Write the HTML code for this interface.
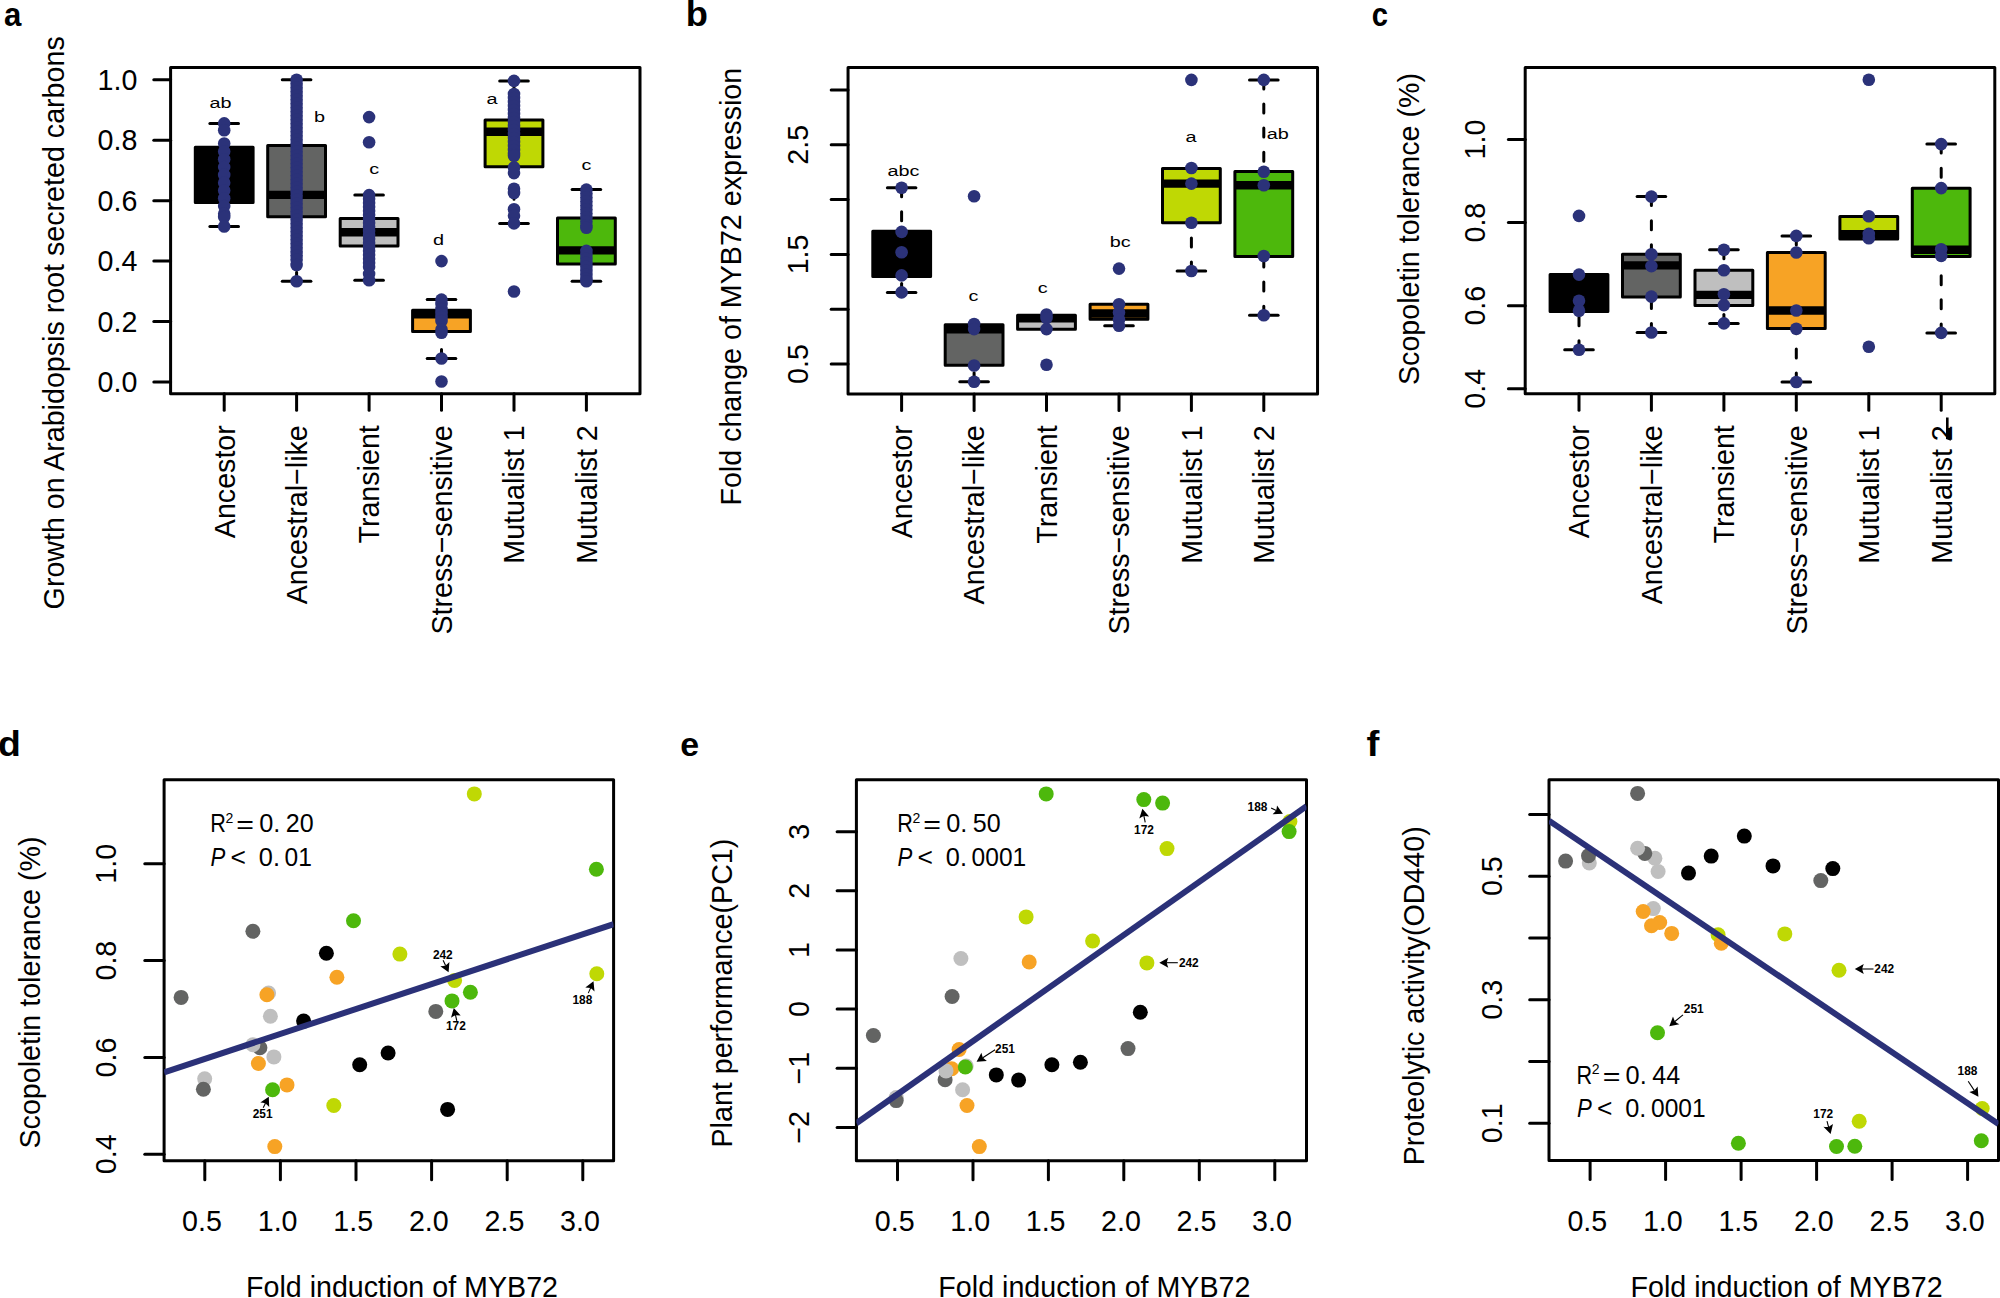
<!DOCTYPE html>
<html lang="en"><head><meta charset="utf-8"><title>Figure</title>
<style>
html,body{margin:0;padding:0;background:#fff;}
body{width:2000px;height:1298px;overflow:hidden;}
svg{display:block;font-family:"Liberation Sans", sans-serif;fill:#000;}
</style></head><body>
<svg width="2000" height="1298" viewBox="0 0 2000 1298">
<rect width="2000" height="1298" fill="#fff"/>
<g id="pa">
<text transform="translate(3.9 25.7) scale(0.95 1)" font-size="32.8" font-weight="bold">a</text>
<line x1="153.8" y1="382.0" x2="170.6" y2="382.0" stroke="#000" stroke-width="3.0" stroke-linecap="round"/>
<text transform="translate(137.4 392.2) scale(1 1.035)" font-size="28.65" text-anchor="end">0.0</text>
<line x1="153.8" y1="321.6" x2="170.6" y2="321.6" stroke="#000" stroke-width="3.0" stroke-linecap="round"/>
<text transform="translate(137.4 331.8) scale(1 1.035)" font-size="28.65" text-anchor="end">0.2</text>
<line x1="153.8" y1="261.1" x2="170.6" y2="261.1" stroke="#000" stroke-width="3.0" stroke-linecap="round"/>
<text transform="translate(137.4 271.3) scale(1 1.035)" font-size="28.65" text-anchor="end">0.4</text>
<line x1="153.8" y1="200.7" x2="170.6" y2="200.7" stroke="#000" stroke-width="3.0" stroke-linecap="round"/>
<text transform="translate(137.4 210.9) scale(1 1.035)" font-size="28.65" text-anchor="end">0.6</text>
<line x1="153.8" y1="140.2" x2="170.6" y2="140.2" stroke="#000" stroke-width="3.0" stroke-linecap="round"/>
<text transform="translate(137.4 150.4) scale(1 1.035)" font-size="28.65" text-anchor="end">0.8</text>
<line x1="153.8" y1="79.8" x2="170.6" y2="79.8" stroke="#000" stroke-width="3.0" stroke-linecap="round"/>
<text transform="translate(137.4 90.0) scale(1 1.035)" font-size="28.65" text-anchor="end">1.0</text>
<text transform="translate(63.8 609.4) rotate(-90) scale(1 1.055)" font-size="28.65" text-anchor="start">Growth on Arabidopsis root secreted carbons</text>
<line x1="224.2" y1="393.8" x2="224.2" y2="410.3" stroke="#000" stroke-width="3.0" stroke-linecap="round"/>
<text transform="translate(234.5 425.2) rotate(-90) scale(1 1.055)" font-size="28.65" text-anchor="end">Ancestor</text>
<line x1="296.6" y1="393.8" x2="296.6" y2="410.3" stroke="#000" stroke-width="3.0" stroke-linecap="round"/>
<text transform="translate(306.9 425.2) rotate(-90) scale(1 1.055)" font-size="28.65" text-anchor="end">Ancestral−like</text>
<line x1="369.1" y1="393.8" x2="369.1" y2="410.3" stroke="#000" stroke-width="3.0" stroke-linecap="round"/>
<text transform="translate(379.4 425.2) rotate(-90) scale(1 1.055)" font-size="28.65" text-anchor="end">Transient</text>
<line x1="441.5" y1="393.8" x2="441.5" y2="410.3" stroke="#000" stroke-width="3.0" stroke-linecap="round"/>
<text transform="translate(451.8 425.2) rotate(-90) scale(1 1.055)" font-size="28.65" text-anchor="end">Stress−sensitive</text>
<line x1="514.0" y1="393.8" x2="514.0" y2="410.3" stroke="#000" stroke-width="3.0" stroke-linecap="round"/>
<text transform="translate(524.3 425.2) rotate(-90) scale(1 1.055)" font-size="28.65" text-anchor="end">Mutualist 1</text>
<line x1="586.4" y1="393.8" x2="586.4" y2="410.3" stroke="#000" stroke-width="3.0" stroke-linecap="round"/>
<text transform="translate(596.7 425.2) rotate(-90) scale(1 1.055)" font-size="28.65" text-anchor="end">Mutualist 2</text>
<line x1="224.2" y1="123.4" x2="224.2" y2="147.2" stroke="#000" stroke-width="3.0" stroke-linecap="round" stroke-dasharray="9 15.1"/>
<line x1="224.2" y1="226.5" x2="224.2" y2="202.6" stroke="#000" stroke-width="3.0" stroke-linecap="round" stroke-dasharray="9 15.1"/>
<line x1="209.9" y1="123.4" x2="238.5" y2="123.4" stroke="#000" stroke-width="3.0" stroke-linecap="round"/>
<line x1="209.9" y1="226.5" x2="238.5" y2="226.5" stroke="#000" stroke-width="3.0" stroke-linecap="round"/>
<rect x="195.3" y="147.2" width="57.8" height="55.4" fill="#000000" stroke="#000" stroke-width="3.0" stroke-linejoin="round"/>
<line x1="296.6" y1="79.7" x2="296.6" y2="145.4" stroke="#000" stroke-width="3.0" stroke-linecap="round" stroke-dasharray="9 15.1"/>
<line x1="296.6" y1="281.3" x2="296.6" y2="216.8" stroke="#000" stroke-width="3.0" stroke-linecap="round" stroke-dasharray="9 15.1"/>
<line x1="282.3" y1="79.7" x2="310.9" y2="79.7" stroke="#000" stroke-width="3.0" stroke-linecap="round"/>
<line x1="282.3" y1="281.3" x2="310.9" y2="281.3" stroke="#000" stroke-width="3.0" stroke-linecap="round"/>
<rect x="267.7" y="145.4" width="57.8" height="71.4" fill="#636463" stroke="#000" stroke-width="3.0" stroke-linejoin="round"/>
<line x1="267.7" y1="194.9" x2="325.5" y2="194.9" stroke="#000" stroke-width="8.4" stroke-linecap="butt"/>
<line x1="369.1" y1="195.1" x2="369.1" y2="218.4" stroke="#000" stroke-width="3.0" stroke-linecap="round" stroke-dasharray="9 15.1"/>
<line x1="369.1" y1="280.2" x2="369.1" y2="246.0" stroke="#000" stroke-width="3.0" stroke-linecap="round" stroke-dasharray="9 15.1"/>
<line x1="354.8" y1="195.1" x2="383.4" y2="195.1" stroke="#000" stroke-width="3.0" stroke-linecap="round"/>
<line x1="354.8" y1="280.2" x2="383.4" y2="280.2" stroke="#000" stroke-width="3.0" stroke-linecap="round"/>
<rect x="340.2" y="218.4" width="57.8" height="27.6" fill="#bfbfbf" stroke="#000" stroke-width="3.0" stroke-linejoin="round"/>
<line x1="340.2" y1="232.3" x2="398.0" y2="232.3" stroke="#000" stroke-width="8.4" stroke-linecap="butt"/>
<line x1="441.5" y1="299.6" x2="441.5" y2="310.2" stroke="#000" stroke-width="3.0" stroke-linecap="round" stroke-dasharray="9 15.1"/>
<line x1="441.5" y1="358.5" x2="441.5" y2="331.6" stroke="#000" stroke-width="3.0" stroke-linecap="round" stroke-dasharray="9 15.1"/>
<line x1="427.2" y1="299.6" x2="455.8" y2="299.6" stroke="#000" stroke-width="3.0" stroke-linecap="round"/>
<line x1="427.2" y1="358.5" x2="455.8" y2="358.5" stroke="#000" stroke-width="3.0" stroke-linecap="round"/>
<rect x="412.6" y="310.2" width="57.8" height="21.4" fill="#f7a325" stroke="#000" stroke-width="3.0" stroke-linejoin="round"/>
<line x1="412.6" y1="314.4" x2="470.4" y2="314.4" stroke="#000" stroke-width="8.4" stroke-linecap="butt"/>
<line x1="514.0" y1="80.9" x2="514.0" y2="119.9" stroke="#000" stroke-width="3.0" stroke-linecap="round" stroke-dasharray="9 15.1"/>
<line x1="514.0" y1="223.4" x2="514.0" y2="166.8" stroke="#000" stroke-width="3.0" stroke-linecap="round" stroke-dasharray="9 15.1"/>
<line x1="499.7" y1="80.9" x2="528.3" y2="80.9" stroke="#000" stroke-width="3.0" stroke-linecap="round"/>
<line x1="499.7" y1="223.4" x2="528.3" y2="223.4" stroke="#000" stroke-width="3.0" stroke-linecap="round"/>
<rect x="485.1" y="119.9" width="57.8" height="46.9" fill="#bfd804" stroke="#000" stroke-width="3.0" stroke-linejoin="round"/>
<line x1="485.1" y1="131.7" x2="542.9" y2="131.7" stroke="#000" stroke-width="8.4" stroke-linecap="butt"/>
<line x1="586.4" y1="189.6" x2="586.4" y2="218.1" stroke="#000" stroke-width="3.0" stroke-linecap="round" stroke-dasharray="9 15.1"/>
<line x1="586.4" y1="281.3" x2="586.4" y2="264.0" stroke="#000" stroke-width="3.0" stroke-linecap="round" stroke-dasharray="9 15.1"/>
<line x1="572.1" y1="189.6" x2="600.7" y2="189.6" stroke="#000" stroke-width="3.0" stroke-linecap="round"/>
<line x1="572.1" y1="281.3" x2="600.7" y2="281.3" stroke="#000" stroke-width="3.0" stroke-linecap="round"/>
<rect x="557.5" y="218.1" width="57.8" height="45.9" fill="#4db80c" stroke="#000" stroke-width="3.0" stroke-linejoin="round"/>
<line x1="557.5" y1="250.4" x2="615.3" y2="250.4" stroke="#000" stroke-width="8.4" stroke-linecap="butt"/>
<circle cx="224.2" cy="123.4" r="6.3" fill="#2b3279"/>
<circle cx="224.2" cy="130.3" r="6.3" fill="#2b3279"/>
<circle cx="224.2" cy="143.5" r="6.3" fill="#2b3279"/>
<circle cx="224.2" cy="151.5" r="6.3" fill="#2b3279"/>
<circle cx="224.2" cy="159.3" r="6.3" fill="#2b3279"/>
<circle cx="224.2" cy="167.1" r="6.3" fill="#2b3279"/>
<circle cx="224.2" cy="174.9" r="6.3" fill="#2b3279"/>
<circle cx="224.2" cy="182.7" r="6.3" fill="#2b3279"/>
<circle cx="224.2" cy="190.5" r="6.3" fill="#2b3279"/>
<circle cx="224.2" cy="198.3" r="6.3" fill="#2b3279"/>
<circle cx="224.2" cy="206.1" r="6.3" fill="#2b3279"/>
<circle cx="224.2" cy="213.8" r="6.3" fill="#2b3279"/>
<circle cx="224.2" cy="217.0" r="6.3" fill="#2b3279"/>
<circle cx="224.2" cy="226.5" r="6.3" fill="#2b3279"/>
<circle cx="296.6" cy="79.7" r="6.3" fill="#2b3279"/>
<circle cx="296.6" cy="83.7" r="6.3" fill="#2b3279"/>
<circle cx="296.6" cy="87.7" r="6.3" fill="#2b3279"/>
<circle cx="296.6" cy="91.7" r="6.3" fill="#2b3279"/>
<circle cx="296.6" cy="95.7" r="6.3" fill="#2b3279"/>
<circle cx="296.6" cy="99.7" r="6.3" fill="#2b3279"/>
<circle cx="296.6" cy="103.7" r="6.3" fill="#2b3279"/>
<circle cx="296.6" cy="107.7" r="6.3" fill="#2b3279"/>
<circle cx="296.6" cy="111.7" r="6.3" fill="#2b3279"/>
<circle cx="296.6" cy="115.7" r="6.3" fill="#2b3279"/>
<circle cx="296.6" cy="119.7" r="6.3" fill="#2b3279"/>
<circle cx="296.6" cy="123.7" r="6.3" fill="#2b3279"/>
<circle cx="296.6" cy="127.7" r="6.3" fill="#2b3279"/>
<circle cx="296.6" cy="131.7" r="6.3" fill="#2b3279"/>
<circle cx="296.6" cy="135.7" r="6.3" fill="#2b3279"/>
<circle cx="296.6" cy="139.7" r="6.3" fill="#2b3279"/>
<circle cx="296.6" cy="143.7" r="6.3" fill="#2b3279"/>
<circle cx="296.6" cy="147.7" r="6.3" fill="#2b3279"/>
<circle cx="296.6" cy="151.7" r="6.3" fill="#2b3279"/>
<circle cx="296.6" cy="155.7" r="6.3" fill="#2b3279"/>
<circle cx="296.6" cy="159.7" r="6.3" fill="#2b3279"/>
<circle cx="296.6" cy="163.7" r="6.3" fill="#2b3279"/>
<circle cx="296.6" cy="167.7" r="6.3" fill="#2b3279"/>
<circle cx="296.6" cy="171.7" r="6.3" fill="#2b3279"/>
<circle cx="296.6" cy="175.7" r="6.3" fill="#2b3279"/>
<circle cx="296.6" cy="179.7" r="6.3" fill="#2b3279"/>
<circle cx="296.6" cy="183.7" r="6.3" fill="#2b3279"/>
<circle cx="296.6" cy="187.7" r="6.3" fill="#2b3279"/>
<circle cx="296.6" cy="191.7" r="6.3" fill="#2b3279"/>
<circle cx="296.6" cy="195.7" r="6.3" fill="#2b3279"/>
<circle cx="296.6" cy="199.7" r="6.3" fill="#2b3279"/>
<circle cx="296.6" cy="203.7" r="6.3" fill="#2b3279"/>
<circle cx="296.6" cy="207.7" r="6.3" fill="#2b3279"/>
<circle cx="296.6" cy="211.7" r="6.3" fill="#2b3279"/>
<circle cx="296.6" cy="215.7" r="6.3" fill="#2b3279"/>
<circle cx="296.6" cy="219.7" r="6.3" fill="#2b3279"/>
<circle cx="296.6" cy="223.7" r="6.3" fill="#2b3279"/>
<circle cx="296.6" cy="227.7" r="6.3" fill="#2b3279"/>
<circle cx="296.6" cy="231.7" r="6.3" fill="#2b3279"/>
<circle cx="296.6" cy="235.7" r="6.3" fill="#2b3279"/>
<circle cx="296.6" cy="239.7" r="6.3" fill="#2b3279"/>
<circle cx="296.6" cy="243.7" r="6.3" fill="#2b3279"/>
<circle cx="296.6" cy="247.7" r="6.3" fill="#2b3279"/>
<circle cx="296.6" cy="251.7" r="6.3" fill="#2b3279"/>
<circle cx="296.6" cy="255.7" r="6.3" fill="#2b3279"/>
<circle cx="296.6" cy="259.7" r="6.3" fill="#2b3279"/>
<circle cx="296.6" cy="265.0" r="6.3" fill="#2b3279"/>
<circle cx="296.6" cy="281.3" r="6.3" fill="#2b3279"/>
<circle cx="369.1" cy="117.1" r="6.3" fill="#2b3279"/>
<circle cx="369.1" cy="142.2" r="6.3" fill="#2b3279"/>
<circle cx="369.1" cy="195.1" r="6.3" fill="#2b3279"/>
<circle cx="369.1" cy="199.1" r="6.3" fill="#2b3279"/>
<circle cx="369.1" cy="203.1" r="6.3" fill="#2b3279"/>
<circle cx="369.1" cy="207.1" r="6.3" fill="#2b3279"/>
<circle cx="369.1" cy="211.1" r="6.3" fill="#2b3279"/>
<circle cx="369.1" cy="215.1" r="6.3" fill="#2b3279"/>
<circle cx="369.1" cy="219.1" r="6.3" fill="#2b3279"/>
<circle cx="369.1" cy="223.1" r="6.3" fill="#2b3279"/>
<circle cx="369.1" cy="227.1" r="6.3" fill="#2b3279"/>
<circle cx="369.1" cy="231.1" r="6.3" fill="#2b3279"/>
<circle cx="369.1" cy="235.1" r="6.3" fill="#2b3279"/>
<circle cx="369.1" cy="239.1" r="6.3" fill="#2b3279"/>
<circle cx="369.1" cy="243.1" r="6.3" fill="#2b3279"/>
<circle cx="369.1" cy="247.1" r="6.3" fill="#2b3279"/>
<circle cx="369.1" cy="251.1" r="6.3" fill="#2b3279"/>
<circle cx="369.1" cy="255.1" r="6.3" fill="#2b3279"/>
<circle cx="369.1" cy="259.1" r="6.3" fill="#2b3279"/>
<circle cx="369.1" cy="263.1" r="6.3" fill="#2b3279"/>
<circle cx="369.1" cy="267.1" r="6.3" fill="#2b3279"/>
<circle cx="369.1" cy="274.0" r="6.3" fill="#2b3279"/>
<circle cx="369.1" cy="280.2" r="6.3" fill="#2b3279"/>
<circle cx="441.5" cy="261.1" r="6.3" fill="#2b3279"/>
<circle cx="441.5" cy="299.6" r="6.3" fill="#2b3279"/>
<circle cx="441.5" cy="304.0" r="6.3" fill="#2b3279"/>
<circle cx="441.5" cy="309.0" r="6.3" fill="#2b3279"/>
<circle cx="441.5" cy="313.0" r="6.3" fill="#2b3279"/>
<circle cx="441.5" cy="317.0" r="6.3" fill="#2b3279"/>
<circle cx="441.5" cy="321.0" r="6.3" fill="#2b3279"/>
<circle cx="441.5" cy="329.5" r="6.3" fill="#2b3279"/>
<circle cx="441.5" cy="332.8" r="6.3" fill="#2b3279"/>
<circle cx="441.5" cy="358.5" r="6.3" fill="#2b3279"/>
<circle cx="441.5" cy="381.5" r="6.3" fill="#2b3279"/>
<circle cx="514.0" cy="80.9" r="6.3" fill="#2b3279"/>
<circle cx="514.0" cy="94.0" r="6.3" fill="#2b3279"/>
<circle cx="514.0" cy="98.0" r="6.3" fill="#2b3279"/>
<circle cx="514.0" cy="102.0" r="6.3" fill="#2b3279"/>
<circle cx="514.0" cy="106.0" r="6.3" fill="#2b3279"/>
<circle cx="514.0" cy="110.0" r="6.3" fill="#2b3279"/>
<circle cx="514.0" cy="114.0" r="6.3" fill="#2b3279"/>
<circle cx="514.0" cy="118.0" r="6.3" fill="#2b3279"/>
<circle cx="514.0" cy="122.0" r="6.3" fill="#2b3279"/>
<circle cx="514.0" cy="126.0" r="6.3" fill="#2b3279"/>
<circle cx="514.0" cy="130.0" r="6.3" fill="#2b3279"/>
<circle cx="514.0" cy="134.0" r="6.3" fill="#2b3279"/>
<circle cx="514.0" cy="138.0" r="6.3" fill="#2b3279"/>
<circle cx="514.0" cy="142.0" r="6.3" fill="#2b3279"/>
<circle cx="514.0" cy="146.0" r="6.3" fill="#2b3279"/>
<circle cx="514.0" cy="150.0" r="6.3" fill="#2b3279"/>
<circle cx="514.0" cy="154.0" r="6.3" fill="#2b3279"/>
<circle cx="514.0" cy="155.8" r="6.3" fill="#2b3279"/>
<circle cx="514.0" cy="167.4" r="6.3" fill="#2b3279"/>
<circle cx="514.0" cy="173.1" r="6.3" fill="#2b3279"/>
<circle cx="514.0" cy="188.8" r="6.3" fill="#2b3279"/>
<circle cx="514.0" cy="193.0" r="6.3" fill="#2b3279"/>
<circle cx="514.0" cy="209.3" r="6.3" fill="#2b3279"/>
<circle cx="514.0" cy="215.8" r="6.3" fill="#2b3279"/>
<circle cx="514.0" cy="223.4" r="6.3" fill="#2b3279"/>
<circle cx="514.0" cy="291.5" r="6.3" fill="#2b3279"/>
<circle cx="586.4" cy="189.6" r="6.3" fill="#2b3279"/>
<circle cx="586.4" cy="193.6" r="6.3" fill="#2b3279"/>
<circle cx="586.4" cy="197.6" r="6.3" fill="#2b3279"/>
<circle cx="586.4" cy="201.6" r="6.3" fill="#2b3279"/>
<circle cx="586.4" cy="205.6" r="6.3" fill="#2b3279"/>
<circle cx="586.4" cy="209.6" r="6.3" fill="#2b3279"/>
<circle cx="586.4" cy="213.6" r="6.3" fill="#2b3279"/>
<circle cx="586.4" cy="217.6" r="6.3" fill="#2b3279"/>
<circle cx="586.4" cy="221.6" r="6.3" fill="#2b3279"/>
<circle cx="586.4" cy="225.6" r="6.3" fill="#2b3279"/>
<circle cx="586.4" cy="227.8" r="6.3" fill="#2b3279"/>
<circle cx="586.4" cy="250.9" r="6.3" fill="#2b3279"/>
<circle cx="586.4" cy="254.9" r="6.3" fill="#2b3279"/>
<circle cx="586.4" cy="258.9" r="6.3" fill="#2b3279"/>
<circle cx="586.4" cy="262.9" r="6.3" fill="#2b3279"/>
<circle cx="586.4" cy="266.9" r="6.3" fill="#2b3279"/>
<circle cx="586.4" cy="270.9" r="6.3" fill="#2b3279"/>
<circle cx="586.4" cy="274.9" r="6.3" fill="#2b3279"/>
<circle cx="586.4" cy="278.9" r="6.3" fill="#2b3279"/>
<circle cx="586.4" cy="281.3" r="6.3" fill="#2b3279"/>
<text transform="translate(220.6 108.4) scale(1.28 1)" font-size="15.5" text-anchor="middle">ab</text>
<text transform="translate(319.5 122.1) scale(1.28 1)" font-size="15.5" text-anchor="middle">b</text>
<text transform="translate(374.2 174.4) scale(1.28 1)" font-size="15.5" text-anchor="middle">c</text>
<text transform="translate(438.5 244.6) scale(1.28 1)" font-size="15.5" text-anchor="middle">d</text>
<text transform="translate(491.9 104.0) scale(1.28 1)" font-size="15.5" text-anchor="middle">a</text>
<text transform="translate(586.4 169.5) scale(1.28 1)" font-size="15.5" text-anchor="middle">c</text>
<rect x="170.6" y="67.4" width="469.4" height="326.4" fill="none" stroke="#000" stroke-width="3.0" stroke-linejoin="round"/>
</g>
<g id="pb">
<text transform="translate(685.7 25.7) scale(1.025 1)" font-size="35.4" font-weight="bold">b</text>
<line x1="831.2" y1="364.0" x2="848.0" y2="364.0" stroke="#000" stroke-width="3.0" stroke-linecap="round"/>
<line x1="831.2" y1="309.2" x2="848.0" y2="309.2" stroke="#000" stroke-width="3.0" stroke-linecap="round"/>
<line x1="831.2" y1="254.4" x2="848.0" y2="254.4" stroke="#000" stroke-width="3.0" stroke-linecap="round"/>
<line x1="831.2" y1="199.6" x2="848.0" y2="199.6" stroke="#000" stroke-width="3.0" stroke-linecap="round"/>
<line x1="831.2" y1="144.8" x2="848.0" y2="144.8" stroke="#000" stroke-width="3.0" stroke-linecap="round"/>
<line x1="831.2" y1="90.0" x2="848.0" y2="90.0" stroke="#000" stroke-width="3.0" stroke-linecap="round"/>
<text transform="translate(807.6 364.0) rotate(-90) scale(1 1.055)" font-size="28.65" text-anchor="middle">0.5</text>
<text transform="translate(807.6 254.4) rotate(-90) scale(1 1.055)" font-size="28.65" text-anchor="middle">1.5</text>
<text transform="translate(807.6 144.8) rotate(-90) scale(1 1.055)" font-size="28.65" text-anchor="middle">2.5</text>
<text transform="translate(740.6 505.6) rotate(-90) scale(1 1.055)" font-size="28.65" text-anchor="start">Fold change of MYB72 expression</text>
<line x1="901.6" y1="393.9" x2="901.6" y2="410.4" stroke="#000" stroke-width="3.0" stroke-linecap="round"/>
<text transform="translate(911.9 425.3) rotate(-90) scale(1 1.055)" font-size="28.65" text-anchor="end">Ancestor</text>
<line x1="974.1" y1="393.9" x2="974.1" y2="410.4" stroke="#000" stroke-width="3.0" stroke-linecap="round"/>
<text transform="translate(984.4 425.3) rotate(-90) scale(1 1.055)" font-size="28.65" text-anchor="end">Ancestral−like</text>
<line x1="1046.5" y1="393.9" x2="1046.5" y2="410.4" stroke="#000" stroke-width="3.0" stroke-linecap="round"/>
<text transform="translate(1056.8 425.3) rotate(-90) scale(1 1.055)" font-size="28.65" text-anchor="end">Transient</text>
<line x1="1119.0" y1="393.9" x2="1119.0" y2="410.4" stroke="#000" stroke-width="3.0" stroke-linecap="round"/>
<text transform="translate(1129.3 425.3) rotate(-90) scale(1 1.055)" font-size="28.65" text-anchor="end">Stress−sensitive</text>
<line x1="1191.4" y1="393.9" x2="1191.4" y2="410.4" stroke="#000" stroke-width="3.0" stroke-linecap="round"/>
<text transform="translate(1201.7 425.3) rotate(-90) scale(1 1.055)" font-size="28.65" text-anchor="end">Mutualist 1</text>
<line x1="1263.8" y1="393.9" x2="1263.8" y2="410.4" stroke="#000" stroke-width="3.0" stroke-linecap="round"/>
<text transform="translate(1274.1 425.3) rotate(-90) scale(1 1.055)" font-size="28.65" text-anchor="end">Mutualist 2</text>
<line x1="901.6" y1="187.7" x2="901.6" y2="231.2" stroke="#000" stroke-width="3.0" stroke-linecap="round" stroke-dasharray="9 15.1"/>
<line x1="901.6" y1="292.4" x2="901.6" y2="276.5" stroke="#000" stroke-width="3.0" stroke-linecap="round" stroke-dasharray="9 15.1"/>
<line x1="887.4" y1="187.7" x2="915.9" y2="187.7" stroke="#000" stroke-width="3.0" stroke-linecap="round"/>
<line x1="887.4" y1="292.4" x2="915.9" y2="292.4" stroke="#000" stroke-width="3.0" stroke-linecap="round"/>
<rect x="872.8" y="231.2" width="57.8" height="45.3" fill="#000000" stroke="#000" stroke-width="3.0" stroke-linejoin="round"/>
<line x1="974.1" y1="381.8" x2="974.1" y2="365.3" stroke="#000" stroke-width="3.0" stroke-linecap="round" stroke-dasharray="9 15.1"/>
<line x1="959.8" y1="381.8" x2="988.4" y2="381.8" stroke="#000" stroke-width="3.0" stroke-linecap="round"/>
<rect x="945.2" y="324.7" width="57.8" height="40.6" fill="#636463" stroke="#000" stroke-width="3.0" stroke-linejoin="round"/>
<line x1="945.2" y1="329.4" x2="1003.0" y2="329.4" stroke="#000" stroke-width="8.4" stroke-linecap="butt"/>
<rect x="1017.6" y="315.2" width="57.8" height="14.0" fill="#bfbfbf" stroke="#000" stroke-width="3.0" stroke-linejoin="round"/>
<line x1="1017.6" y1="318.4" x2="1075.4" y2="318.4" stroke="#000" stroke-width="8.4" stroke-linecap="butt"/>
<line x1="1119.0" y1="325.7" x2="1119.0" y2="319.2" stroke="#000" stroke-width="3.0" stroke-linecap="round" stroke-dasharray="9 15.1"/>
<line x1="1104.7" y1="325.7" x2="1133.3" y2="325.7" stroke="#000" stroke-width="3.0" stroke-linecap="round"/>
<rect x="1090.1" y="304.3" width="57.8" height="14.9" fill="#f7a325" stroke="#000" stroke-width="3.0" stroke-linejoin="round"/>
<line x1="1090.1" y1="313.5" x2="1147.9" y2="313.5" stroke="#000" stroke-width="8.4" stroke-linecap="butt"/>
<line x1="1191.4" y1="271.0" x2="1191.4" y2="222.7" stroke="#000" stroke-width="3.0" stroke-linecap="round" stroke-dasharray="9 15.1"/>
<line x1="1177.1" y1="271.0" x2="1205.7" y2="271.0" stroke="#000" stroke-width="3.0" stroke-linecap="round"/>
<rect x="1162.5" y="168.6" width="57.8" height="54.1" fill="#bfd804" stroke="#000" stroke-width="3.0" stroke-linejoin="round"/>
<line x1="1162.5" y1="183.6" x2="1220.3" y2="183.6" stroke="#000" stroke-width="8.4" stroke-linecap="butt"/>
<line x1="1263.8" y1="79.9" x2="1263.8" y2="171.6" stroke="#000" stroke-width="3.0" stroke-linecap="round" stroke-dasharray="9 15.1"/>
<line x1="1263.8" y1="315.2" x2="1263.8" y2="256.6" stroke="#000" stroke-width="3.0" stroke-linecap="round" stroke-dasharray="9 15.1"/>
<line x1="1249.5" y1="79.9" x2="1278.1" y2="79.9" stroke="#000" stroke-width="3.0" stroke-linecap="round"/>
<line x1="1249.5" y1="315.2" x2="1278.1" y2="315.2" stroke="#000" stroke-width="3.0" stroke-linecap="round"/>
<rect x="1234.9" y="171.6" width="57.8" height="85.0" fill="#4db80c" stroke="#000" stroke-width="3.0" stroke-linejoin="round"/>
<line x1="1234.9" y1="185.3" x2="1292.8" y2="185.3" stroke="#000" stroke-width="8.4" stroke-linecap="butt"/>
<circle cx="901.6" cy="187.7" r="6.3" fill="#2b3279"/>
<circle cx="901.6" cy="231.9" r="6.3" fill="#2b3279"/>
<circle cx="901.6" cy="252.3" r="6.3" fill="#2b3279"/>
<circle cx="901.6" cy="275.4" r="6.3" fill="#2b3279"/>
<circle cx="901.6" cy="292.4" r="6.3" fill="#2b3279"/>
<circle cx="974.1" cy="196.2" r="6.3" fill="#2b3279"/>
<circle cx="974.1" cy="324.0" r="6.3" fill="#2b3279"/>
<circle cx="974.1" cy="329.1" r="6.3" fill="#2b3279"/>
<circle cx="974.1" cy="365.5" r="6.3" fill="#2b3279"/>
<circle cx="974.1" cy="381.8" r="6.3" fill="#2b3279"/>
<circle cx="1046.5" cy="314.5" r="6.3" fill="#2b3279"/>
<circle cx="1046.5" cy="318.0" r="6.3" fill="#2b3279"/>
<circle cx="1046.5" cy="329.1" r="6.3" fill="#2b3279"/>
<circle cx="1046.5" cy="364.8" r="6.3" fill="#2b3279"/>
<circle cx="1119.0" cy="268.6" r="6.3" fill="#2b3279"/>
<circle cx="1119.0" cy="304.3" r="6.3" fill="#2b3279"/>
<circle cx="1119.0" cy="312.5" r="6.3" fill="#2b3279"/>
<circle cx="1119.0" cy="319.5" r="6.3" fill="#2b3279"/>
<circle cx="1119.0" cy="325.7" r="6.3" fill="#2b3279"/>
<circle cx="1191.4" cy="79.9" r="6.3" fill="#2b3279"/>
<circle cx="1191.4" cy="168.0" r="6.3" fill="#2b3279"/>
<circle cx="1191.4" cy="183.6" r="6.3" fill="#2b3279"/>
<circle cx="1191.4" cy="222.7" r="6.3" fill="#2b3279"/>
<circle cx="1191.4" cy="271.0" r="6.3" fill="#2b3279"/>
<circle cx="1263.8" cy="79.9" r="6.3" fill="#2b3279"/>
<circle cx="1263.8" cy="171.7" r="6.3" fill="#2b3279"/>
<circle cx="1263.8" cy="185.3" r="6.3" fill="#2b3279"/>
<circle cx="1263.8" cy="256.0" r="6.3" fill="#2b3279"/>
<circle cx="1263.8" cy="315.2" r="6.3" fill="#2b3279"/>
<text transform="translate(903.4 175.8) scale(1.28 1)" font-size="15.5" text-anchor="middle">abc</text>
<text transform="translate(973.4 301.0) scale(1.28 1)" font-size="15.5" text-anchor="middle">c</text>
<text transform="translate(1042.8 293.4) scale(1.28 1)" font-size="15.5" text-anchor="middle">c</text>
<text transform="translate(1120.3 246.5) scale(1.28 1)" font-size="15.5" text-anchor="middle">bc</text>
<text transform="translate(1191.0 142.1) scale(1.28 1)" font-size="15.5" text-anchor="middle">a</text>
<text transform="translate(1277.8 139.4) scale(1.28 1)" font-size="15.5" text-anchor="middle">ab</text>
<rect x="848.05" y="67.5" width="469.5" height="326.4" fill="none" stroke="#000" stroke-width="3.0" stroke-linejoin="round"/>
</g>
<g id="pc">
<text transform="translate(1371.8 25.8) scale(0.88 1)" font-size="33.2" font-weight="bold">c</text>
<line x1="1508.4" y1="388.8" x2="1525.2" y2="388.8" stroke="#000" stroke-width="3.0" stroke-linecap="round"/>
<text transform="translate(1484.8 388.8) rotate(-90) scale(1 1.055)" font-size="28.65" text-anchor="middle">0.4</text>
<line x1="1508.4" y1="305.7" x2="1525.2" y2="305.7" stroke="#000" stroke-width="3.0" stroke-linecap="round"/>
<text transform="translate(1484.8 305.7) rotate(-90) scale(1 1.055)" font-size="28.65" text-anchor="middle">0.6</text>
<line x1="1508.4" y1="222.6" x2="1525.2" y2="222.6" stroke="#000" stroke-width="3.0" stroke-linecap="round"/>
<text transform="translate(1484.8 222.6) rotate(-90) scale(1 1.055)" font-size="28.65" text-anchor="middle">0.8</text>
<line x1="1508.4" y1="139.5" x2="1525.2" y2="139.5" stroke="#000" stroke-width="3.0" stroke-linecap="round"/>
<text transform="translate(1484.8 139.5) rotate(-90) scale(1 1.055)" font-size="28.65" text-anchor="middle">1.0</text>
<text transform="translate(1418.5 385.0) rotate(-90) scale(1 1.055)" font-size="28.65" text-anchor="start">Scopoletin tolerance (%)</text>
<line x1="1579.0" y1="393.8" x2="1579.0" y2="410.3" stroke="#000" stroke-width="3.0" stroke-linecap="round"/>
<text transform="translate(1589.3 425.2) rotate(-90) scale(1 1.055)" font-size="28.65" text-anchor="end">Ancestor</text>
<line x1="1651.4" y1="393.8" x2="1651.4" y2="410.3" stroke="#000" stroke-width="3.0" stroke-linecap="round"/>
<text transform="translate(1661.7 425.2) rotate(-90) scale(1 1.055)" font-size="28.65" text-anchor="end">Ancestral−like</text>
<line x1="1723.9" y1="393.8" x2="1723.9" y2="410.3" stroke="#000" stroke-width="3.0" stroke-linecap="round"/>
<text transform="translate(1734.2 425.2) rotate(-90) scale(1 1.055)" font-size="28.65" text-anchor="end">Transient</text>
<line x1="1796.3" y1="393.8" x2="1796.3" y2="410.3" stroke="#000" stroke-width="3.0" stroke-linecap="round"/>
<text transform="translate(1806.6 425.2) rotate(-90) scale(1 1.055)" font-size="28.65" text-anchor="end">Stress−sensitive</text>
<line x1="1868.8" y1="393.8" x2="1868.8" y2="410.3" stroke="#000" stroke-width="3.0" stroke-linecap="round"/>
<text transform="translate(1879.1 425.2) rotate(-90) scale(1 1.055)" font-size="28.65" text-anchor="end">Mutualist 1</text>
<line x1="1941.2" y1="393.8" x2="1941.2" y2="410.3" stroke="#000" stroke-width="3.0" stroke-linecap="round"/>
<text transform="translate(1951.5 425.2) rotate(-90) scale(1 1.055)" font-size="28.65" text-anchor="end">Mutualist 2</text>
<line x1="1579.0" y1="349.8" x2="1579.0" y2="311.5" stroke="#000" stroke-width="3.0" stroke-linecap="round" stroke-dasharray="9 15.1"/>
<line x1="1564.7" y1="349.8" x2="1593.3" y2="349.8" stroke="#000" stroke-width="3.0" stroke-linecap="round"/>
<rect x="1550.1" y="274.6" width="57.8" height="36.9" fill="#000000" stroke="#000" stroke-width="3.0" stroke-linejoin="round"/>
<line x1="1651.4" y1="196.6" x2="1651.4" y2="254.3" stroke="#000" stroke-width="3.0" stroke-linecap="round" stroke-dasharray="9 15.1"/>
<line x1="1651.4" y1="332.5" x2="1651.4" y2="296.9" stroke="#000" stroke-width="3.0" stroke-linecap="round" stroke-dasharray="9 15.1"/>
<line x1="1637.1" y1="196.6" x2="1665.7" y2="196.6" stroke="#000" stroke-width="3.0" stroke-linecap="round"/>
<line x1="1637.1" y1="332.5" x2="1665.7" y2="332.5" stroke="#000" stroke-width="3.0" stroke-linecap="round"/>
<rect x="1622.5" y="254.3" width="57.8" height="42.6" fill="#636463" stroke="#000" stroke-width="3.0" stroke-linejoin="round"/>
<line x1="1622.5" y1="265.4" x2="1680.3" y2="265.4" stroke="#000" stroke-width="8.4" stroke-linecap="butt"/>
<line x1="1723.9" y1="249.8" x2="1723.9" y2="270.2" stroke="#000" stroke-width="3.0" stroke-linecap="round" stroke-dasharray="9 15.1"/>
<line x1="1723.9" y1="323.4" x2="1723.9" y2="305.4" stroke="#000" stroke-width="3.0" stroke-linecap="round" stroke-dasharray="9 15.1"/>
<line x1="1709.6" y1="249.8" x2="1738.2" y2="249.8" stroke="#000" stroke-width="3.0" stroke-linecap="round"/>
<line x1="1709.6" y1="323.4" x2="1738.2" y2="323.4" stroke="#000" stroke-width="3.0" stroke-linecap="round"/>
<rect x="1695.0" y="270.2" width="57.8" height="35.2" fill="#bfbfbf" stroke="#000" stroke-width="3.0" stroke-linejoin="round"/>
<line x1="1695.0" y1="294.9" x2="1752.8" y2="294.9" stroke="#000" stroke-width="8.4" stroke-linecap="butt"/>
<line x1="1796.3" y1="235.9" x2="1796.3" y2="252.6" stroke="#000" stroke-width="3.0" stroke-linecap="round" stroke-dasharray="9 15.1"/>
<line x1="1796.3" y1="382.0" x2="1796.3" y2="328.4" stroke="#000" stroke-width="3.0" stroke-linecap="round" stroke-dasharray="9 15.1"/>
<line x1="1782.0" y1="235.9" x2="1810.6" y2="235.9" stroke="#000" stroke-width="3.0" stroke-linecap="round"/>
<line x1="1782.0" y1="382.0" x2="1810.6" y2="382.0" stroke="#000" stroke-width="3.0" stroke-linecap="round"/>
<rect x="1767.4" y="252.6" width="57.8" height="75.8" fill="#f7a325" stroke="#000" stroke-width="3.0" stroke-linejoin="round"/>
<line x1="1767.4" y1="310.5" x2="1825.2" y2="310.5" stroke="#000" stroke-width="8.4" stroke-linecap="butt"/>
<rect x="1839.9" y="216.6" width="57.8" height="22.3" fill="#bfd804" stroke="#000" stroke-width="3.0" stroke-linejoin="round"/>
<line x1="1839.9" y1="234.2" x2="1897.7" y2="234.2" stroke="#000" stroke-width="8.4" stroke-linecap="butt"/>
<line x1="1941.2" y1="144.1" x2="1941.2" y2="188.2" stroke="#000" stroke-width="3.0" stroke-linecap="round" stroke-dasharray="9 15.1"/>
<line x1="1941.2" y1="332.9" x2="1941.2" y2="256.5" stroke="#000" stroke-width="3.0" stroke-linecap="round" stroke-dasharray="9 15.1"/>
<line x1="1926.9" y1="144.1" x2="1955.5" y2="144.1" stroke="#000" stroke-width="3.0" stroke-linecap="round"/>
<line x1="1926.9" y1="332.9" x2="1955.5" y2="332.9" stroke="#000" stroke-width="3.0" stroke-linecap="round"/>
<rect x="1912.3" y="188.2" width="57.8" height="68.3" fill="#4db80c" stroke="#000" stroke-width="3.0" stroke-linejoin="round"/>
<line x1="1912.3" y1="249.8" x2="1970.1" y2="249.8" stroke="#000" stroke-width="8.4" stroke-linecap="butt"/>
<circle cx="1579.0" cy="215.9" r="6.3" fill="#2b3279"/>
<circle cx="1579.0" cy="274.6" r="6.3" fill="#2b3279"/>
<circle cx="1579.0" cy="300.7" r="6.3" fill="#2b3279"/>
<circle cx="1579.0" cy="310.8" r="6.3" fill="#2b3279"/>
<circle cx="1579.0" cy="349.8" r="6.3" fill="#2b3279"/>
<circle cx="1651.4" cy="196.6" r="6.3" fill="#2b3279"/>
<circle cx="1651.4" cy="254.2" r="6.3" fill="#2b3279"/>
<circle cx="1651.4" cy="266.1" r="6.3" fill="#2b3279"/>
<circle cx="1651.4" cy="296.6" r="6.3" fill="#2b3279"/>
<circle cx="1651.4" cy="332.5" r="6.3" fill="#2b3279"/>
<circle cx="1723.9" cy="249.8" r="6.3" fill="#2b3279"/>
<circle cx="1723.9" cy="270.2" r="6.3" fill="#2b3279"/>
<circle cx="1723.9" cy="294.2" r="6.3" fill="#2b3279"/>
<circle cx="1723.9" cy="305.1" r="6.3" fill="#2b3279"/>
<circle cx="1723.9" cy="323.4" r="6.3" fill="#2b3279"/>
<circle cx="1796.3" cy="235.9" r="6.3" fill="#2b3279"/>
<circle cx="1796.3" cy="252.5" r="6.3" fill="#2b3279"/>
<circle cx="1796.3" cy="310.5" r="6.3" fill="#2b3279"/>
<circle cx="1796.3" cy="328.8" r="6.3" fill="#2b3279"/>
<circle cx="1796.3" cy="382.0" r="6.3" fill="#2b3279"/>
<circle cx="1868.8" cy="79.7" r="6.3" fill="#2b3279"/>
<circle cx="1868.8" cy="216.3" r="6.3" fill="#2b3279"/>
<circle cx="1868.8" cy="233.9" r="6.3" fill="#2b3279"/>
<circle cx="1868.8" cy="238.3" r="6.3" fill="#2b3279"/>
<circle cx="1868.8" cy="346.8" r="6.3" fill="#2b3279"/>
<circle cx="1941.2" cy="144.1" r="6.3" fill="#2b3279"/>
<circle cx="1941.2" cy="188.1" r="6.3" fill="#2b3279"/>
<circle cx="1941.2" cy="249.2" r="6.3" fill="#2b3279"/>
<circle cx="1941.2" cy="255.9" r="6.3" fill="#2b3279"/>
<circle cx="1941.2" cy="332.9" r="6.3" fill="#2b3279"/>
<rect x="1525.2" y="67.4" width="469.6" height="326.4" fill="none" stroke="#000" stroke-width="3.0" stroke-linejoin="round"/>
<path d="M1946 417.6h2.6v10.4h2.2v12.8l-4.8-1.8z" fill="#000"/>
</g>
<g id="pd">
<text transform="translate(-1.9 755.7) scale(1.06 1)" font-size="35.3" font-weight="bold">d</text>
<line x1="144.8" y1="1154.3" x2="164.1" y2="1154.3" stroke="#000" stroke-width="3.0" stroke-linecap="round"/>
<text transform="translate(116.2 1154.3) rotate(-90) scale(1 1.055)" font-size="28.65" text-anchor="middle">0.4</text>
<line x1="144.8" y1="1057.5" x2="164.1" y2="1057.5" stroke="#000" stroke-width="3.0" stroke-linecap="round"/>
<text transform="translate(116.2 1057.5) rotate(-90) scale(1 1.055)" font-size="28.65" text-anchor="middle">0.6</text>
<line x1="144.8" y1="960.6" x2="164.1" y2="960.6" stroke="#000" stroke-width="3.0" stroke-linecap="round"/>
<text transform="translate(116.2 960.6) rotate(-90) scale(1 1.055)" font-size="28.65" text-anchor="middle">0.8</text>
<line x1="144.8" y1="863.8" x2="164.1" y2="863.8" stroke="#000" stroke-width="3.0" stroke-linecap="round"/>
<text transform="translate(116.2 863.8) rotate(-90) scale(1 1.055)" font-size="28.65" text-anchor="middle">1.0</text>
<text transform="translate(39.6 1148.5) rotate(-90) scale(1 1.055)" font-size="28.65" text-anchor="start">Scopoletin tolerance (%)</text>
<line x1="204.8" y1="1160.8" x2="204.8" y2="1179.8" stroke="#000" stroke-width="3.0" stroke-linecap="round"/>
<text transform="translate(202.0 1231.4) scale(1 1.035)" font-size="28.65" text-anchor="middle">0.5</text>
<line x1="280.4" y1="1160.8" x2="280.4" y2="1179.8" stroke="#000" stroke-width="3.0" stroke-linecap="round"/>
<text transform="translate(277.6 1231.4) scale(1 1.035)" font-size="28.65" text-anchor="middle">1.0</text>
<line x1="356.0" y1="1160.8" x2="356.0" y2="1179.8" stroke="#000" stroke-width="3.0" stroke-linecap="round"/>
<text transform="translate(353.2 1231.4) scale(1 1.035)" font-size="28.65" text-anchor="middle">1.5</text>
<line x1="431.6" y1="1160.8" x2="431.6" y2="1179.8" stroke="#000" stroke-width="3.0" stroke-linecap="round"/>
<text transform="translate(428.8 1231.4) scale(1 1.035)" font-size="28.65" text-anchor="middle">2.0</text>
<line x1="507.2" y1="1160.8" x2="507.2" y2="1179.8" stroke="#000" stroke-width="3.0" stroke-linecap="round"/>
<text transform="translate(504.4 1231.4) scale(1 1.035)" font-size="28.65" text-anchor="middle">2.5</text>
<line x1="582.8" y1="1160.8" x2="582.8" y2="1179.8" stroke="#000" stroke-width="3.0" stroke-linecap="round"/>
<text transform="translate(580.0 1231.4) scale(1 1.035)" font-size="28.65" text-anchor="middle">3.0</text>
<text transform="translate(402.0 1297.4) scale(1 1.015)" font-size="28.65" text-anchor="middle">Fold induction of MYB72</text>
<circle cx="474.3" cy="793.9" r="7.5" fill="#bfd804"/>
<circle cx="596.4" cy="869.2" r="7.5" fill="#4db80c"/>
<circle cx="353.5" cy="920.8" r="7.5" fill="#4db80c"/>
<circle cx="252.9" cy="931.3" r="7.5" fill="#636463"/>
<circle cx="326.4" cy="953.2" r="7.5" fill="#000000"/>
<circle cx="399.9" cy="954.1" r="7.5" fill="#bfd804"/>
<circle cx="336.9" cy="977.3" r="7.5" fill="#f7a325"/>
<circle cx="454.6" cy="980.4" r="7.5" fill="#bfd804"/>
<circle cx="596.8" cy="973.8" r="7.5" fill="#bfd804"/>
<circle cx="470.4" cy="992.2" r="7.5" fill="#4db80c"/>
<circle cx="452.0" cy="1000.9" r="7.5" fill="#4db80c"/>
<circle cx="181.1" cy="997.4" r="7.5" fill="#636463"/>
<circle cx="268.6" cy="993.0" r="7.5" fill="#bfbfbf"/>
<circle cx="266.9" cy="994.8" r="7.5" fill="#f7a325"/>
<circle cx="270.4" cy="1016.2" r="7.5" fill="#bfbfbf"/>
<circle cx="303.6" cy="1021.1" r="7.5" fill="#000000"/>
<circle cx="435.8" cy="1011.4" r="7.5" fill="#636463"/>
<circle cx="259.9" cy="1047.7" r="7.5" fill="#636463"/>
<circle cx="252.9" cy="1044.8" r="7.5" fill="#bfbfbf"/>
<circle cx="273.9" cy="1056.9" r="7.5" fill="#bfbfbf"/>
<circle cx="388.1" cy="1053.0" r="7.5" fill="#000000"/>
<circle cx="258.4" cy="1063.5" r="7.5" fill="#f7a325"/>
<circle cx="359.7" cy="1064.8" r="7.5" fill="#000000"/>
<circle cx="204.7" cy="1078.8" r="7.5" fill="#bfbfbf"/>
<circle cx="203.4" cy="1089.3" r="7.5" fill="#636463"/>
<circle cx="287.0" cy="1084.9" r="7.5" fill="#f7a325"/>
<circle cx="272.6" cy="1089.8" r="7.5" fill="#4db80c"/>
<circle cx="333.8" cy="1105.5" r="7.5" fill="#bfd804"/>
<circle cx="447.6" cy="1109.4" r="7.5" fill="#000000"/>
<circle cx="274.8" cy="1146.6" r="7.5" fill="#f7a325"/>
<rect x="164.1" y="779.8" width="449.5" height="381.0" fill="none" stroke="#000" stroke-width="3.0" stroke-linejoin="round"/>
<clipPath id="cd"><rect x="164.1" y="779.8" width="449.5" height="381.0"/></clipPath>
<line x1="164.1" y1="1072.3" x2="613.6" y2="924.1" stroke="#2b3178" stroke-width="6.0" clip-path="url(#cd)"/>
<text y="832.0" font-size="26.4"><tspan x="210.2" textLength="15.63" lengthAdjust="spacingAndGlyphs">R</tspan><tspan x="225.4" textLength="7.82" lengthAdjust="spacingAndGlyphs" dy="-9.4" font-size="14.8">2</tspan><tspan dy="10.1"> </tspan><tspan x="236.3" textLength="17.73" lengthAdjust="spacingAndGlyphs">=</tspan><tspan dy="-0.7"> </tspan><tspan x="259.2" textLength="21.14" lengthAdjust="spacingAndGlyphs">0.</tspan><tspan> </tspan><tspan x="285.8" textLength="27.89" lengthAdjust="spacingAndGlyphs">20</tspan></text>
<text y="865.6" font-size="26.4"><tspan x="210.6" textLength="14.79" lengthAdjust="spacingAndGlyphs" font-style="italic">P</tspan><tspan> </tspan><tspan x="230.6">&lt;</tspan><tspan> </tspan><tspan x="258.8" textLength="21.14" lengthAdjust="spacingAndGlyphs">0.</tspan><tspan> </tspan><tspan x="284.6" textLength="27.30" lengthAdjust="spacingAndGlyphs">01</tspan></text>
<text transform="translate(442.8 958.9) scale(1 1.0)" font-size="11.9" text-anchor="middle" font-weight="bold">242</text>
<line x1="443.1" y1="960.2" x2="445.6" y2="965.6" stroke="#000" stroke-width="1.1" stroke-linecap="butt"/>
<path d="M448.6 972.3L440.3 966.2Q443.3 966.0 445.5 965.5Q447.3 964.2 449.4 962.0Z" fill="#000"/>
<text transform="translate(582.4 1003.9) scale(1 1.0)" font-size="11.9" text-anchor="middle" font-weight="bold">188</text>
<line x1="588.3" y1="993.1" x2="590.6" y2="987.9" stroke="#000" stroke-width="1.1" stroke-linecap="butt"/>
<path d="M593.5 981.2L594.5 991.5Q592.4 989.3 590.5 988.1Q588.3 987.6 585.3 987.5Z" fill="#000"/>
<text transform="translate(455.9 1030.2) scale(1 1.0)" font-size="11.9" text-anchor="middle" font-weight="bold">172</text>
<line x1="456.8" y1="1020.9" x2="455.5" y2="1015.0" stroke="#000" stroke-width="1.1" stroke-linecap="butt"/>
<path d="M453.8 1007.9L460.7 1015.6Q457.7 1015.1 455.5 1015.2Q453.4 1016.1 451.0 1017.8Z" fill="#000"/>
<text transform="translate(262.6 1117.8) scale(1 1.0)" font-size="11.9" text-anchor="middle" font-weight="bold">251</text>
<line x1="263.2" y1="1107.7" x2="265.5" y2="1103.2" stroke="#000" stroke-width="1.1" stroke-linecap="butt"/>
<path d="M268.8 1096.7L269.2 1107.0Q267.2 1104.8 265.4 1103.4Q263.3 1102.8 260.3 1102.5Z" fill="#000"/>
</g>
<g id="pe">
<text transform="translate(680.2 756.2) scale(1.0 1)" font-size="33.9" font-weight="bold">e</text>
<line x1="837.1" y1="1127.4" x2="856.4" y2="1127.4" stroke="#000" stroke-width="3.0" stroke-linecap="round"/>
<text transform="translate(809.2 1127.4) rotate(-90) scale(1 1.055)" font-size="28.65" text-anchor="middle">−2</text>
<line x1="837.1" y1="1068.2" x2="856.4" y2="1068.2" stroke="#000" stroke-width="3.0" stroke-linecap="round"/>
<text transform="translate(809.2 1068.2) rotate(-90) scale(1 1.055)" font-size="28.65" text-anchor="middle">−1</text>
<line x1="837.1" y1="1009.1" x2="856.4" y2="1009.1" stroke="#000" stroke-width="3.0" stroke-linecap="round"/>
<text transform="translate(809.2 1009.1) rotate(-90) scale(1 1.055)" font-size="28.65" text-anchor="middle">0</text>
<line x1="837.1" y1="950.0" x2="856.4" y2="950.0" stroke="#000" stroke-width="3.0" stroke-linecap="round"/>
<text transform="translate(809.2 950.0) rotate(-90) scale(1 1.055)" font-size="28.65" text-anchor="middle">1</text>
<line x1="837.1" y1="890.8" x2="856.4" y2="890.8" stroke="#000" stroke-width="3.0" stroke-linecap="round"/>
<text transform="translate(809.2 890.8) rotate(-90) scale(1 1.055)" font-size="28.65" text-anchor="middle">2</text>
<line x1="837.1" y1="831.7" x2="856.4" y2="831.7" stroke="#000" stroke-width="3.0" stroke-linecap="round"/>
<text transform="translate(809.2 831.7) rotate(-90) scale(1 1.055)" font-size="28.65" text-anchor="middle">3</text>
<text transform="translate(731.8 1147.5) rotate(-90) scale(1 1.055)" font-size="28.65" text-anchor="start">Plant performance(PC1)</text>
<line x1="897.5" y1="1160.8" x2="897.5" y2="1179.8" stroke="#000" stroke-width="3.0" stroke-linecap="round"/>
<text transform="translate(894.7 1231.4) scale(1 1.035)" font-size="28.65" text-anchor="middle">0.5</text>
<line x1="973.0" y1="1160.8" x2="973.0" y2="1179.8" stroke="#000" stroke-width="3.0" stroke-linecap="round"/>
<text transform="translate(970.2 1231.4) scale(1 1.035)" font-size="28.65" text-anchor="middle">1.0</text>
<line x1="1048.4" y1="1160.8" x2="1048.4" y2="1179.8" stroke="#000" stroke-width="3.0" stroke-linecap="round"/>
<text transform="translate(1045.6 1231.4) scale(1 1.035)" font-size="28.65" text-anchor="middle">1.5</text>
<line x1="1123.8" y1="1160.8" x2="1123.8" y2="1179.8" stroke="#000" stroke-width="3.0" stroke-linecap="round"/>
<text transform="translate(1121.0 1231.4) scale(1 1.035)" font-size="28.65" text-anchor="middle">2.0</text>
<line x1="1199.3" y1="1160.8" x2="1199.3" y2="1179.8" stroke="#000" stroke-width="3.0" stroke-linecap="round"/>
<text transform="translate(1196.5 1231.4) scale(1 1.035)" font-size="28.65" text-anchor="middle">2.5</text>
<line x1="1274.8" y1="1160.8" x2="1274.8" y2="1179.8" stroke="#000" stroke-width="3.0" stroke-linecap="round"/>
<text transform="translate(1272.0 1231.4) scale(1 1.035)" font-size="28.65" text-anchor="middle">3.0</text>
<text transform="translate(1094.4 1297.4) scale(1 1.015)" font-size="28.65" text-anchor="middle">Fold induction of MYB72</text>
<circle cx="1046.2" cy="793.9" r="7.5" fill="#4db80c"/>
<circle cx="1143.8" cy="799.6" r="7.5" fill="#4db80c"/>
<circle cx="1162.6" cy="803.1" r="7.5" fill="#4db80c"/>
<circle cx="1289.9" cy="821.5" r="7.5" fill="#bfd804"/>
<circle cx="1289.1" cy="831.6" r="7.5" fill="#4db80c"/>
<circle cx="1167.0" cy="848.6" r="7.5" fill="#bfd804"/>
<circle cx="1026.1" cy="916.9" r="7.5" fill="#bfd804"/>
<circle cx="1092.6" cy="941.0" r="7.5" fill="#bfd804"/>
<circle cx="960.9" cy="958.5" r="7.5" fill="#bfbfbf"/>
<circle cx="1029.2" cy="962.0" r="7.5" fill="#f7a325"/>
<circle cx="1146.9" cy="962.9" r="7.5" fill="#bfd804"/>
<circle cx="952.1" cy="996.5" r="7.5" fill="#636463"/>
<circle cx="1140.3" cy="1012.3" r="7.5" fill="#000000"/>
<circle cx="873.4" cy="1035.5" r="7.5" fill="#636463"/>
<circle cx="959.1" cy="1049.5" r="7.5" fill="#f7a325"/>
<circle cx="1128.0" cy="1048.6" r="7.5" fill="#636463"/>
<circle cx="1080.4" cy="1062.2" r="7.5" fill="#000000"/>
<circle cx="1051.9" cy="1064.8" r="7.5" fill="#000000"/>
<circle cx="951.7" cy="1068.7" r="7.5" fill="#f7a325"/>
<circle cx="966.2" cy="1066.0" r="7.5" fill="#bfbfbf"/>
<circle cx="965.3" cy="1067.0" r="7.5" fill="#4db80c"/>
<circle cx="945.1" cy="1079.7" r="7.5" fill="#636463"/>
<circle cx="946.0" cy="1070.9" r="7.5" fill="#bfbfbf"/>
<circle cx="996.3" cy="1074.9" r="7.5" fill="#000000"/>
<circle cx="1018.6" cy="1080.1" r="7.5" fill="#000000"/>
<circle cx="962.6" cy="1089.8" r="7.5" fill="#bfbfbf"/>
<circle cx="896.2" cy="1097.6" r="7.5" fill="#bfbfbf"/>
<circle cx="896.2" cy="1100.6" r="7.5" fill="#636463"/>
<circle cx="967.0" cy="1105.5" r="7.5" fill="#f7a325"/>
<circle cx="979.3" cy="1146.6" r="7.5" fill="#f7a325"/>
<rect x="856.4" y="779.8" width="450.1" height="381.0" fill="none" stroke="#000" stroke-width="3.0" stroke-linejoin="round"/>
<clipPath id="ce"><rect x="856.4" y="779.8" width="450.1" height="381.0"/></clipPath>
<line x1="856.4" y1="1123.2" x2="1306.5" y2="806.3" stroke="#2b3178" stroke-width="6.0" clip-path="url(#ce)"/>
<text y="832.0" font-size="26.4"><tspan x="897.2" textLength="15.63" lengthAdjust="spacingAndGlyphs">R</tspan><tspan x="912.4" textLength="7.82" lengthAdjust="spacingAndGlyphs" dy="-9.4" font-size="14.8">2</tspan><tspan dy="10.1"> </tspan><tspan x="923.3" textLength="17.73" lengthAdjust="spacingAndGlyphs">=</tspan><tspan dy="-0.7"> </tspan><tspan x="946.2" textLength="21.14" lengthAdjust="spacingAndGlyphs">0.</tspan><tspan> </tspan><tspan x="972.8" textLength="27.89" lengthAdjust="spacingAndGlyphs">50</tspan></text>
<text y="865.6" font-size="26.4"><tspan x="897.6" textLength="14.79" lengthAdjust="spacingAndGlyphs" font-style="italic">P</tspan><tspan> </tspan><tspan x="917.6">&lt;</tspan><tspan> </tspan><tspan x="945.8" textLength="21.14" lengthAdjust="spacingAndGlyphs">0.</tspan><tspan> </tspan><tspan x="971.6" textLength="54.60" lengthAdjust="spacingAndGlyphs">0001</tspan></text>
<text transform="translate(1144.0 834.1) scale(1 1.0)" font-size="11.9" text-anchor="middle" font-weight="bold">172</text>
<line x1="1145.2" y1="822.3" x2="1143.9" y2="815.9" stroke="#000" stroke-width="1.1" stroke-linecap="butt"/>
<path d="M1142.4 808.7L1149.1 816.5Q1146.2 816.0 1143.9 816.1Q1141.9 816.9 1139.3 818.5Z" fill="#000"/>
<text transform="translate(1257.5 811.4) scale(1 1.0)" font-size="11.9" text-anchor="middle" font-weight="bold">188</text>
<line x1="1271.1" y1="808.0" x2="1276.3" y2="810.6" stroke="#000" stroke-width="1.1" stroke-linecap="butt"/>
<path d="M1282.9 813.8L1272.6 814.3Q1274.8 812.3 1276.1 810.5Q1276.8 808.4 1277.0 805.4Z" fill="#000"/>
<text transform="translate(1188.8 966.7) scale(1 1.0)" font-size="11.9" text-anchor="middle" font-weight="bold">242</text>
<line x1="1177.8" y1="962.7" x2="1166.6" y2="962.7" stroke="#000" stroke-width="1.1" stroke-linecap="butt"/>
<path d="M1159.3 962.7L1168.3 957.7Q1167.2 960.5 1166.8 962.7Q1167.2 964.9 1168.3 967.7Z" fill="#000"/>
<text transform="translate(1005.0 1052.5) scale(1 1.0)" font-size="11.9" text-anchor="middle" font-weight="bold">251</text>
<line x1="995.1" y1="1049.7" x2="982.8" y2="1057.8" stroke="#000" stroke-width="1.1" stroke-linecap="butt"/>
<path d="M976.6 1061.8L981.4 1052.7Q982.1 1055.6 982.9 1057.7Q984.5 1059.3 986.9 1061.0Z" fill="#000"/>
</g>
<g id="pf">
<text transform="translate(1366.4 755.8) scale(1.09 1)" font-size="35.4" font-weight="bold">f</text>
<line x1="1529.7" y1="1123.3" x2="1549.0" y2="1123.3" stroke="#000" stroke-width="3.0" stroke-linecap="round"/>
<line x1="1529.7" y1="1061.5" x2="1549.0" y2="1061.5" stroke="#000" stroke-width="3.0" stroke-linecap="round"/>
<line x1="1529.7" y1="999.8" x2="1549.0" y2="999.8" stroke="#000" stroke-width="3.0" stroke-linecap="round"/>
<line x1="1529.7" y1="938.0" x2="1549.0" y2="938.0" stroke="#000" stroke-width="3.0" stroke-linecap="round"/>
<line x1="1529.7" y1="876.2" x2="1549.0" y2="876.2" stroke="#000" stroke-width="3.0" stroke-linecap="round"/>
<line x1="1529.7" y1="814.4" x2="1549.0" y2="814.4" stroke="#000" stroke-width="3.0" stroke-linecap="round"/>
<text transform="translate(1502.3 1123.3) rotate(-90) scale(1 1.055)" font-size="28.65" text-anchor="middle">0.1</text>
<text transform="translate(1502.3 999.8) rotate(-90) scale(1 1.055)" font-size="28.65" text-anchor="middle">0.3</text>
<text transform="translate(1502.3 876.2) rotate(-90) scale(1 1.055)" font-size="28.65" text-anchor="middle">0.5</text>
<text transform="translate(1424.0 1165.3) rotate(-90) scale(1 1.055)" font-size="28.65" text-anchor="start">Proteolytic activity(OD440)</text>
<line x1="1590.1" y1="1160.6" x2="1590.1" y2="1179.6" stroke="#000" stroke-width="3.0" stroke-linecap="round"/>
<text transform="translate(1587.3 1231.4) scale(1 1.035)" font-size="28.65" text-anchor="middle">0.5</text>
<line x1="1665.6" y1="1160.6" x2="1665.6" y2="1179.6" stroke="#000" stroke-width="3.0" stroke-linecap="round"/>
<text transform="translate(1662.8 1231.4) scale(1 1.035)" font-size="28.65" text-anchor="middle">1.0</text>
<line x1="1741.1" y1="1160.6" x2="1741.1" y2="1179.6" stroke="#000" stroke-width="3.0" stroke-linecap="round"/>
<text transform="translate(1738.3 1231.4) scale(1 1.035)" font-size="28.65" text-anchor="middle">1.5</text>
<line x1="1816.6" y1="1160.6" x2="1816.6" y2="1179.6" stroke="#000" stroke-width="3.0" stroke-linecap="round"/>
<text transform="translate(1813.8 1231.4) scale(1 1.035)" font-size="28.65" text-anchor="middle">2.0</text>
<line x1="1892.1" y1="1160.6" x2="1892.1" y2="1179.6" stroke="#000" stroke-width="3.0" stroke-linecap="round"/>
<text transform="translate(1889.3 1231.4) scale(1 1.035)" font-size="28.65" text-anchor="middle">2.5</text>
<line x1="1967.6" y1="1160.6" x2="1967.6" y2="1179.6" stroke="#000" stroke-width="3.0" stroke-linecap="round"/>
<text transform="translate(1964.8 1231.4) scale(1 1.035)" font-size="28.65" text-anchor="middle">3.0</text>
<text transform="translate(1786.6 1297.4) scale(1 1.015)" font-size="28.65" text-anchor="middle">Fold induction of MYB72</text>
<circle cx="1637.6" cy="793.4" r="7.5" fill="#636463"/>
<circle cx="1744.3" cy="836.1" r="7.5" fill="#000000"/>
<circle cx="1654.9" cy="858.2" r="7.5" fill="#bfbfbf"/>
<circle cx="1644.8" cy="853.4" r="7.5" fill="#636463"/>
<circle cx="1637.6" cy="848.3" r="7.5" fill="#bfbfbf"/>
<circle cx="1589.3" cy="863.0" r="7.5" fill="#bfbfbf"/>
<circle cx="1588.5" cy="855.8" r="7.5" fill="#636463"/>
<circle cx="1565.6" cy="861.1" r="7.5" fill="#636463"/>
<circle cx="1711.2" cy="856.1" r="7.5" fill="#000000"/>
<circle cx="1658.1" cy="871.5" r="7.5" fill="#bfbfbf"/>
<circle cx="1688.5" cy="873.1" r="7.5" fill="#000000"/>
<circle cx="1773.0" cy="865.9" r="7.5" fill="#000000"/>
<circle cx="1832.8" cy="868.6" r="7.5" fill="#000000"/>
<circle cx="1820.8" cy="880.6" r="7.5" fill="#636463"/>
<circle cx="1653.3" cy="908.6" r="7.5" fill="#bfbfbf"/>
<circle cx="1643.2" cy="911.5" r="7.5" fill="#f7a325"/>
<circle cx="1659.7" cy="922.5" r="7.5" fill="#f7a325"/>
<circle cx="1651.5" cy="925.7" r="7.5" fill="#f7a325"/>
<circle cx="1671.7" cy="933.4" r="7.5" fill="#f7a325"/>
<circle cx="1718.1" cy="934.7" r="7.5" fill="#bfd804"/>
<circle cx="1721.3" cy="943.3" r="7.5" fill="#f7a325"/>
<circle cx="1784.8" cy="933.9" r="7.5" fill="#bfd804"/>
<circle cx="1839.0" cy="970.2" r="7.5" fill="#bfd804"/>
<circle cx="1657.5" cy="1032.7" r="7.5" fill="#4db80c"/>
<circle cx="1982.2" cy="1108.5" r="7.5" fill="#bfd804"/>
<circle cx="1859.2" cy="1121.3" r="7.5" fill="#bfd804"/>
<circle cx="1738.4" cy="1143.3" r="7.5" fill="#4db80c"/>
<circle cx="1836.5" cy="1146.5" r="7.5" fill="#4db80c"/>
<circle cx="1854.8" cy="1146.3" r="7.5" fill="#4db80c"/>
<circle cx="1981.3" cy="1140.8" r="7.5" fill="#4db80c"/>
<rect x="1549.0" y="779.8" width="449.5" height="380.8" fill="none" stroke="#000" stroke-width="3.0" stroke-linejoin="round"/>
<clipPath id="cf"><rect x="1549.0" y="779.8" width="449.5" height="380.8"/></clipPath>
<line x1="1549.0" y1="820.7" x2="1998.5" y2="1124.0" stroke="#2b3178" stroke-width="6.0" clip-path="url(#cf)"/>
<text y="1083.8" font-size="26.4"><tspan x="1576.6" textLength="15.63" lengthAdjust="spacingAndGlyphs">R</tspan><tspan x="1591.8" textLength="7.82" lengthAdjust="spacingAndGlyphs" dy="-9.4" font-size="14.8">2</tspan><tspan dy="10.1"> </tspan><tspan x="1602.7" textLength="17.73" lengthAdjust="spacingAndGlyphs">=</tspan><tspan dy="-0.7"> </tspan><tspan x="1625.6" textLength="21.14" lengthAdjust="spacingAndGlyphs">0.</tspan><tspan> </tspan><tspan x="1652.2" textLength="27.89" lengthAdjust="spacingAndGlyphs">44</tspan></text>
<text y="1117.4" font-size="26.4"><tspan x="1577.0" textLength="14.79" lengthAdjust="spacingAndGlyphs" font-style="italic">P</tspan><tspan> </tspan><tspan x="1597.0">&lt;</tspan><tspan> </tspan><tspan x="1625.2" textLength="21.14" lengthAdjust="spacingAndGlyphs">0.</tspan><tspan> </tspan><tspan x="1651.0" textLength="54.60" lengthAdjust="spacingAndGlyphs">0001</tspan></text>
<text transform="translate(1884.2 972.8) scale(1 1.0)" font-size="11.9" text-anchor="middle" font-weight="bold">242</text>
<line x1="1873.5" y1="969.0" x2="1862.0" y2="969.0" stroke="#000" stroke-width="1.1" stroke-linecap="butt"/>
<path d="M1854.8 969.0L1863.8 964.0Q1862.6 966.8 1862.2 969.0Q1862.6 971.2 1863.8 974.0Z" fill="#000"/>
<text transform="translate(1693.7 1012.5) scale(1 1.0)" font-size="11.9" text-anchor="middle" font-weight="bold">251</text>
<line x1="1683.0" y1="1014.8" x2="1674.9" y2="1021.5" stroke="#000" stroke-width="1.1" stroke-linecap="butt"/>
<path d="M1669.3 1026.2L1673.0 1016.6Q1673.9 1019.4 1675.0 1021.4Q1676.7 1022.8 1679.4 1024.3Z" fill="#000"/>
<text transform="translate(1967.5 1074.8) scale(1 1.0)" font-size="11.9" text-anchor="middle" font-weight="bold">188</text>
<line x1="1968.2" y1="1081.2" x2="1974.4" y2="1090.6" stroke="#000" stroke-width="1.1" stroke-linecap="butt"/>
<path d="M1978.4 1096.8L1969.3 1092.0Q1972.2 1091.3 1974.3 1090.5Q1975.9 1088.9 1977.6 1086.5Z" fill="#000"/>
<text transform="translate(1823.2 1118.0) scale(1 1.0)" font-size="11.9" text-anchor="middle" font-weight="bold">172</text>
<line x1="1827.0" y1="1121.2" x2="1828.6" y2="1127.1" stroke="#000" stroke-width="1.1" stroke-linecap="butt"/>
<path d="M1830.6 1134.1L1823.4 1126.8Q1826.3 1127.1 1828.6 1126.9Q1830.6 1125.9 1833.0 1124.1Z" fill="#000"/>
</g>
</svg>
</body></html>
